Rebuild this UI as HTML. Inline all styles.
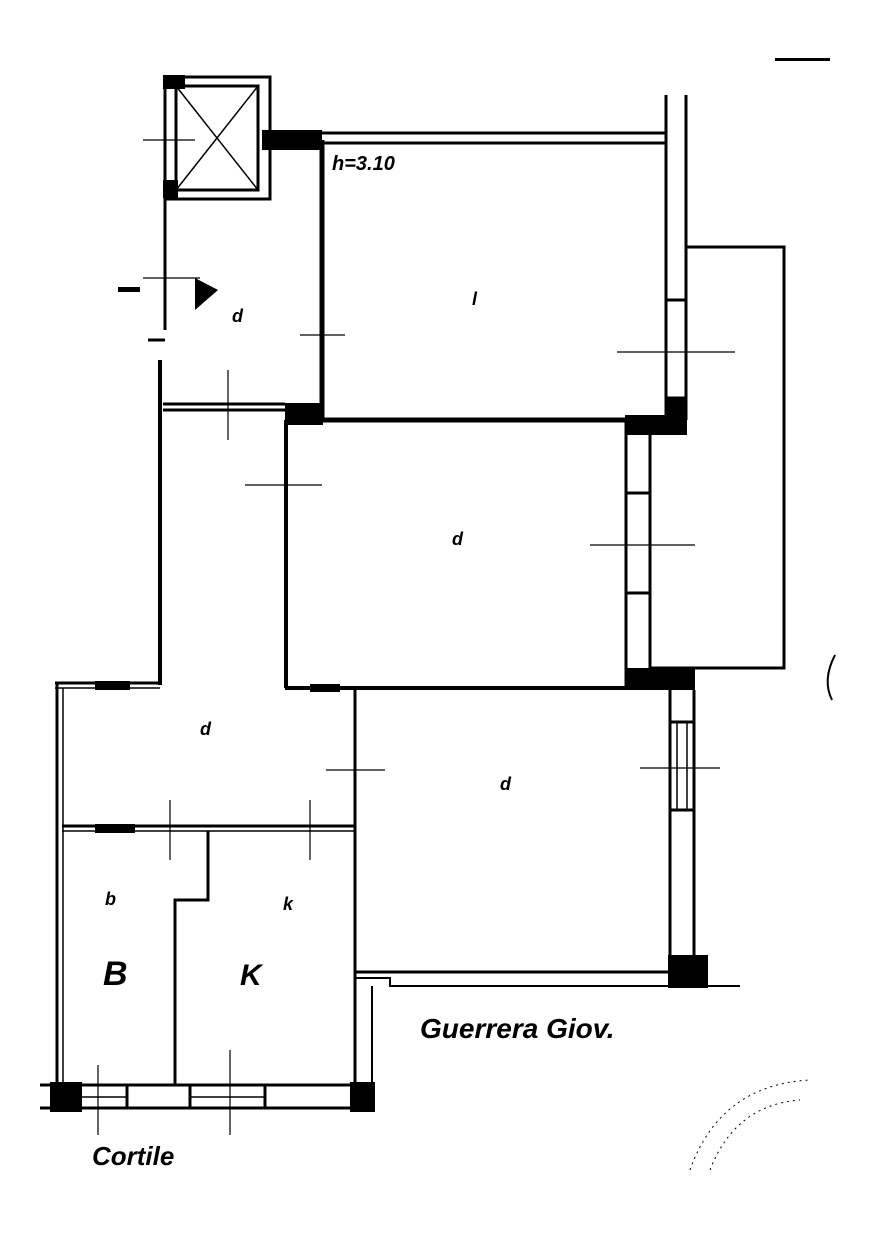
<!DOCTYPE html>
<html><head><meta charset="utf-8"><style>
html,body{margin:0;padding:0;background:#fff}
svg{display:block}
text{font-family:"Liberation Sans",sans-serif;font-style:italic;font-weight:bold;fill:#000}
</style></head><body>
<svg width="877" height="1240" viewBox="0 0 877 1240" xmlns="http://www.w3.org/2000/svg">
<g stroke="#000" fill="none" stroke-width="3">
<rect x="165" y="77" width="105" height="122"/>
<rect x="176" y="86" width="82" height="104"/>
<line x1="176" y1="86" x2="258" y2="190" stroke-width="1.5"/>
<line x1="258" y1="86" x2="176" y2="190" stroke-width="1.5"/>
<line x1="322" y1="133" x2="665" y2="133"/>
<line x1="322" y1="143" x2="665" y2="143"/>
<line x1="666" y1="95" x2="666" y2="420"/>
<line x1="686" y1="95" x2="686" y2="420"/>
<line x1="666" y1="300" x2="686" y2="300"/>
<line x1="666" y1="398" x2="686" y2="398"/>
<polyline points="686,247 784,247 784,668 650,668"/>
<line x1="322" y1="140" x2="322" y2="420" stroke-width="5"/>
<line x1="165" y1="199" x2="165" y2="330"/>
<line x1="148" y1="340" x2="165" y2="340"/>
<line x1="160" y1="360" x2="160" y2="685" stroke-width="4"/>
<line x1="163" y1="404" x2="285" y2="404"/>
<line x1="163" y1="410" x2="285" y2="410"/>
<line x1="285" y1="420" x2="686" y2="420" stroke-width="5"/>
<line x1="286" y1="420" x2="286" y2="688" stroke-width="4"/>
<line x1="285" y1="688" x2="695" y2="688" stroke-width="4"/>
<line x1="626" y1="420" x2="626" y2="688"/>
<line x1="650" y1="420" x2="650" y2="688"/>
<line x1="626" y1="493" x2="650" y2="493"/>
<line x1="626" y1="593" x2="650" y2="593"/>
<line x1="55" y1="683" x2="160" y2="683"/>
<line x1="55" y1="688" x2="160" y2="688" stroke-width="1.5"/>
<line x1="57" y1="683" x2="57" y2="1090"/>
<line x1="63" y1="688" x2="63" y2="1090" stroke-width="1.5"/>
<line x1="62" y1="826" x2="355" y2="826"/>
<line x1="62" y1="831" x2="355" y2="831" stroke-width="1.5"/>
<line x1="355" y1="690" x2="355" y2="1100" stroke-width="3"/>
<polyline points="208,831 208,900 175,900 175,1085"/>
<line x1="670" y1="690" x2="670" y2="960"/>
<line x1="694" y1="690" x2="694" y2="960"/>
<line x1="670" y1="722" x2="694" y2="722"/>
<line x1="670" y1="810" x2="694" y2="810"/>
<line x1="677" y1="722" x2="677" y2="810" stroke-width="1.5"/>
<line x1="687" y1="722" x2="687" y2="810" stroke-width="1.5"/>
<line x1="355" y1="972" x2="670" y2="972"/>
<polyline points="355,978 390,978 390,986 740,986" stroke-width="2"/>
<polyline points="372,986 372,1085" stroke-width="2"/>
<line x1="40" y1="1085" x2="375" y2="1085"/>
<line x1="40" y1="1108" x2="375" y2="1108"/>
<rect x="127" y="1085" width="63" height="23"/>
<rect x="265" y="1085" width="88" height="23"/>
<line x1="80" y1="1097" x2="127" y2="1097" stroke-width="1.5"/>
<line x1="190" y1="1097" x2="265" y2="1097" stroke-width="1.5"/>
<g stroke-width="1.2">
<line x1="143" y1="140" x2="195" y2="140"/><line x1="143" y1="278" x2="200" y2="278"/>
<line x1="300" y1="335" x2="345" y2="335"/><line x1="245" y1="485" x2="322" y2="485"/>
<line x1="617" y1="352" x2="735" y2="352"/><line x1="590" y1="545" x2="695" y2="545"/>
<line x1="640" y1="768" x2="720" y2="768"/><line x1="326" y1="770" x2="385" y2="770"/>
<line x1="228" y1="370" x2="228" y2="440"/><line x1="98" y1="1065" x2="98" y2="1135"/>
<line x1="230" y1="1050" x2="230" y2="1135"/><line x1="170" y1="800" x2="170" y2="860"/>
<line x1="310" y1="800" x2="310" y2="860"/>
</g>
<path d="M835 655 Q822 680 832 700" stroke-width="2"/>
<path d="M690 1170 Q720 1085 810 1080" stroke-width="1" stroke-dasharray="2 4"/>
<path d="M710 1170 Q735 1105 800 1100" stroke-width="1" stroke-dasharray="2 4"/>
</g>
<g fill="#000">
<rect x="163" y="75" width="22" height="14"/><rect x="163" y="180" width="15" height="18"/>
<rect x="262" y="130" width="60" height="20"/>
<rect x="285" y="403" width="38" height="22"/>
<rect x="625" y="415" width="62" height="20"/><rect x="665" y="398" width="22" height="20"/>
<rect x="625" y="668" width="70" height="22"/>
<rect x="95" y="681" width="35" height="9"/><rect x="310" y="684" width="30" height="8"/>
<rect x="95" y="824" width="40" height="9"/>
<rect x="668" y="955" width="40" height="33"/>
<rect x="50" y="1082" width="32" height="30"/><rect x="350" y="1082" width="25" height="30"/>
<polygon points="195,278 218,290 195,310"/>
<rect x="118" y="287" width="22" height="5"/>
<rect x="775" y="58" width="55" height="3"/>
</g>
<g fill="#999" font-size="18">
<text x="232" y="322">d</text><text x="472" y="305">l</text><text x="452" y="545">d</text>
<text x="200" y="735">d</text><text x="500" y="790">d</text><text x="105" y="905">b</text><text x="283" y="910">k</text>
</g>
<text x="332" y="170" font-size="20">h=3.10</text>
<text x="420" y="1038" font-size="28">Guerrera Giov.</text>
<text x="92" y="1165" font-size="26">Cortile</text>
<text x="103" y="985" font-size="34">B</text>
<text x="240" y="985" font-size="30">K</text>
</svg>
</body></html>
